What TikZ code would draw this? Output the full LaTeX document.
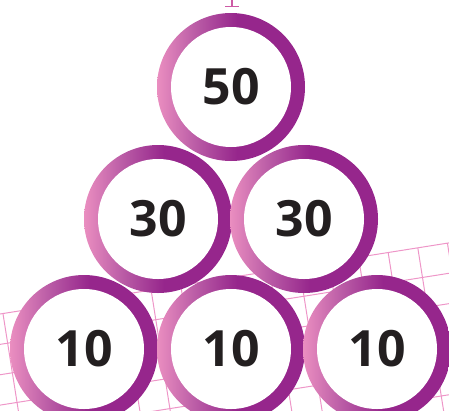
\documentclass[tikz,border=0pt]{standalone}
\usepackage{fontspec}
\setmainfont{Open Sans}
\usepackage{tikz}

\definecolor{ringpink}{RGB}{234,142,192}
\definecolor{ringmid}{RGB}{186,92,166}
\definecolor{ringpurple}{RGB}{150,38,140}
\definecolor{gridpink}{RGB}{238,150,200}
\definecolor{markpink}{RGB}{205,90,165}
\definecolor{numblack}{RGB}{35,31,32}
\pgfdeclarehorizontalshading{ringgrad}{100bp}{color(0bp)=(ringpink); color(25bp)=(ringpink); color(38bp)=(ringmid); color(52bp)=(ringpurple); color(100bp)=(ringpurple)}

\begin{document}
\begin{tikzpicture}[x=1pt,y=-1pt,
  gridline/.style={draw=gridpink,line width=1pt},
  numtext/.style={font=\fontsize{50}{50}\selectfont\bfseries,text=numblack,inner sep=0pt}]
\useasboundingbox (0,0) rectangle (449,410);
% tilted grid behind the lower rings
\begin{scope}
\clip (0,0) rectangle (449,410);
\begin{scope}[shift={(0,314)},rotate=9]
\foreach \j in {0,30,...,180} \draw[gridline] (-80,\j) -- (520,\j);
\foreach \i in {-87,-57,...,513} \draw[gridline] (\i,0) -- (\i,200);
\end{scope}
\end{scope}
% small mark at the top edge
\draw[markpink,line width=1.3pt] (232,0) -- (232,6.5);
\draw[markpink,line width=1.3pt] (225,6.5) -- (239,6.5);
% the six rings
\foreach \cx/\cy/\num/\nm in {231/87/50/top, 158/219/30/midl, 304/219/30/midr,
  84/349/10/botl, 231/349/10/botm, 377/349/10/botr}{
  \shade[shading=ringgrad] (\cx,\cy) circle[radius=74pt];
  \fill[white] (\cx,\cy) circle[radius=60pt];
  \node[numtext] (\nm) at (\cx,\cy) {\num};
}
\end{tikzpicture}
\end{document}
